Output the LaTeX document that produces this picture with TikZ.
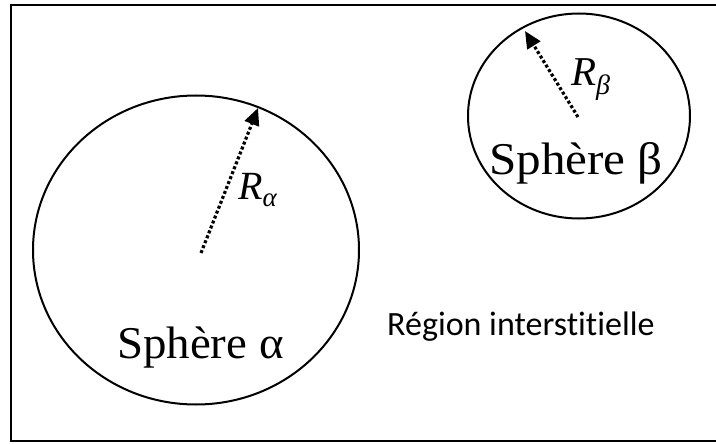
\documentclass[tikz,border=0pt]{standalone}
\usepackage{fontspec}
\newfontfamily\serifA{Liberation Serif}
\newfontfamily\calibA[Ligatures=NoCommon]{Carlito}
\usetikzlibrary{shapes.geometric,arrows.meta}
\tikzset{
  sphere/.style={ellipse, draw, line width=2pt, inner sep=0pt},
  radius arrow/.style={line width=3.2pt, dash pattern=on 3pt off 2.3pt,
     -{Triangle[length=17pt,width=15pt]}},
  lbl/.style={anchor=base west, inner sep=0pt},
  frameline/.style={line width=2.6pt}
}
\begin{document}
\begin{tikzpicture}[x=1pt,y=-1pt]
\useasboundingbox (0,0) rectangle (716,444);
% frame (right side lies outside the picture)
\coordinate (f1) at (716,5);
\coordinate (f2) at (11,5);
\coordinate (f3) at (11,441);
\coordinate (f4) at (716,441);
\draw[frameline] (f1) -- (f2) -- (f3) -- (f4);
% sphere alpha
\node[sphere, minimum width=326pt, minimum height=309pt] (sa) at (196,250) {};
\coordinate (ca) at (201,253);
\coordinate (ta) at (258,108);
\draw[radius arrow] (ca) -- (ta);
\node[lbl] (ra) at (238,199) {\serifA\fontsize{40}{40}\selectfont\itshape R\raisebox{-0.2em}{\fontsize{27}{27}\selectfont α}};
\node[lbl, xscale=1.03] (la) at (117,358) {\serifA\fontsize{45.5}{46}\selectfont Sphère α};
% sphere beta
\node[sphere, minimum width=222pt, minimum height=205pt] (sb) at (579,116) {};
\coordinate (cb) at (578,117);
\coordinate (tb) at (525,31);
\draw[radius arrow] (cb) -- (tb);
\node[lbl] (rb) at (571,86) {\serifA\fontsize{41}{41}\selectfont\itshape R\raisebox{-0.2em}{\fontsize{28}{28}\selectfont β}};
\node[lbl, xscale=1.08] (lb) at (489,175) {\serifA\fontsize{45.5}{46}\selectfont Sphère β};
% interstitial region
\node[lbl] (ri) at (387,335) {\calibA\fontsize{34}{34}\selectfont Région interstitielle};
\end{tikzpicture}
\end{document}
